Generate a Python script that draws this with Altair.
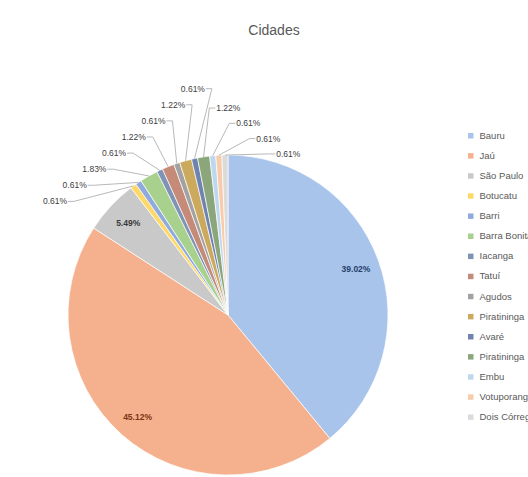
import json
import math

import altair as alt
import pandas as pd

# Share of records per city (percent of the total)
cities = [
    "Bauru", "Jaú", "São Paulo", "Botucatu", "Barri", "Barra Bonita",
    "Iacanga", "Tatuí", "Agudos", "Piratininga", "Avaré", "Piratininga",
    "Embu", "Votuporanga", "Dois Córregos",
]
shares = [39.02, 45.12, 5.49, 0.61, 0.61, 1.83, 0.61, 1.22, 0.61, 1.22,
          0.61, 1.22, 0.61, 0.61, 0.61]

slice_colors = [
    "#A9C4EB", "#F5B18E", "#C9C9C9", "#FFD966", "#8FAADC", "#A9D18E",
    "#7E93B5", "#C58A78", "#A2A2A2", "#CBAA5E", "#6F83B0", "#8BA67A",
    "#BDD7EE", "#F8CBAD", "#DBDBDB",
]
inside_text_colors = ["#24406B", "#7A3512", "#3A3A3A"]

df = pd.DataFrame({"idx": list(range(len(cities))), "city": cities, "share": shares})

# Layout (pixels)
W, H, TOP = 528, 437, 40
CX, CY = 228, 275          # pie centre inside the view
R = 160                     # pie radius
IN_R = 0.85 * R             # radius of labels drawn on the slices
OUT_R = 207                 # radius where each stack of outer labels starts
STEP = math.radians(7.1)    # angular gap used to split labels into left/right
SMALL = 3                   # slices below this share get an outer label
LEFT_DX, LEFT_DY = 19.7, -16.1    # left stack climbs towards the top
RIGHT_DX, RIGHT_DY = 20.0, 15.3   # right stack descends to the right

base = (
    alt.Chart(df)
    .transform_joinaggregate(total="sum(share)")
    .transform_window(cum="sum(share)", sort=[alt.SortField("idx")], frame=[None, 0])
    .transform_calculate(
        mid="2 * PI * (datum.cum - datum.share / 2) / datum.total",
        txt="format(datum.share, '.2f') + '%'",
    )
)

legend = alt.Legend(
    title=None,
    orient="none",
    legendX=466,
    legendY=91,
    padding=0,
    symbolType="square",
    symbolSize=30,
    symbolStrokeWidth=0,
    labelFontSize=9.5,
    labelFont="Liberation Sans",
    labelColor="#595959",
    rowPadding=9.1,
    labelOffset=4,
    labelLimit=0,
    labelExpr=f"{json.dumps(cities, ensure_ascii=False)}[datum.value]",
)

pie = alt.Chart(df).mark_arc(radius=R, stroke="white", strokeWidth=0.7).encode(
    theta=alt.Theta("share:Q", stack=True),
    order=alt.Order("idx:Q"),
    color=alt.Color(
        "idx:O",
        scale=alt.Scale(domain=list(range(len(cities))), range=slice_colors),
        legend=legend,
    ),
    x=alt.value(CX),
    y=alt.value(CY),
)

# Large slices: percentage written on the slice itself
inside = (
    base.transform_filter(f"datum.share >= {SMALL}")
    .transform_calculate(
        lx=f"{CX} + {IN_R} * sin(datum.mid)",
        ly=f"{CY} - {IN_R} * cos(datum.mid)",
    )
    .mark_text(fontSize=8.5, font="Liberation Sans", fontWeight="bold")
    .encode(
        x=alt.X("lx:Q", scale=None, axis=None),
        y=alt.Y("ly:Q", scale=None, axis=None),
        text="txt:N",
        color=alt.Color(
            "idx:O",
            scale=alt.Scale(domain=[0, 1, 2], range=inside_text_colors),
            legend=None,
        ),
    )
)

# Small slices: labels fanned out in two stacks over the top of the pie
outer = (
    base.transform_filter(f"datum.share < {SMALL}")
    .transform_window(k="row_number()", sort=[alt.SortField("idx")])
    .transform_joinaggregate(n="count()", amid="mean(mid)")
    .transform_calculate(la=f"datum.amid + (datum.k - (datum.n + 1) / 2) * {STEP}")
    .transform_calculate(left=f"sin(datum.la) < 0 ? 1 : 0")
    .transform_joinaggregate(nleft="sum(left)")
    .transform_calculate(
        a0=f"datum.amid - (datum.n - 1) / 2 * {STEP}",
        a1=f"datum.amid + (datum.nleft - (datum.n - 1) / 2) * {STEP}",
    )
    .transform_calculate(
        lx=(
            f"datum.left ? {CX} + {OUT_R} * sin(datum.a0) + (datum.k - 1) * {LEFT_DX}"
            f" : {CX} + {OUT_R} * sin(datum.a1) + (datum.k - datum.nleft - 1) * {RIGHT_DX}"
        ),
        ly=(
            f"datum.left ? {CY} - {OUT_R} * cos(datum.a0) + (datum.k - 1) * {LEFT_DY}"
            f" : {CY} - {OUT_R} * cos(datum.a1) + (datum.k - datum.nleft - 1) * {RIGHT_DY}"
        ),
        px=f"{CX} + {R} * sin(datum.mid)",
        py=f"{CY} - {R} * cos(datum.mid)",
    )
    .transform_calculate(side="datum.left ? 1 : -1")
    .transform_calculate(
        ax="datum.lx + datum.side * 13",
        bx="datum.lx + datum.side * 19",
    )
)

outer_text = outer.mark_text(
    fontSize=8.5, font="Liberation Sans", color="#404040"
).encode(
    x=alt.X("lx:Q", scale=None, axis=None),
    y=alt.Y("ly:Q", scale=None, axis=None),
    text="txt:N",
)

lead_a = outer.mark_rule(color="#A6A6A6", strokeWidth=0.8).encode(
    x=alt.X("ax:Q", scale=None, axis=None),
    x2="bx:Q",
    y=alt.Y("ly:Q", scale=None, axis=None),
    y2="ly:Q",
)

lead_b = outer.mark_rule(color="#A6A6A6", strokeWidth=0.8).encode(
    x=alt.X("bx:Q", scale=None, axis=None),
    x2="px:Q",
    y=alt.Y("ly:Q", scale=None, axis=None),
    y2="py:Q",
)

chart = (
    alt.layer(pie, lead_a, lead_b, outer_text, inside)
    .resolve_scale(color="independent")
    .properties(
        width=W,
        height=H,
        autosize=alt.AutoSizeParams(type="none"),
        padding={"top": TOP, "left": 0, "right": 0, "bottom": 0},
        background="white",
        title=alt.TitleParams(
            "Cidades",
            font="Liberation Sans",
            fontSize=14,
            fontWeight="normal",
            color="#595959",
            anchor="middle",
            dx=10,
            offset=2,
        ),
    )
    .configure_view(stroke=None)
)

chart.save("out.html", embed_options={"renderer": "svg", "actions": False})
